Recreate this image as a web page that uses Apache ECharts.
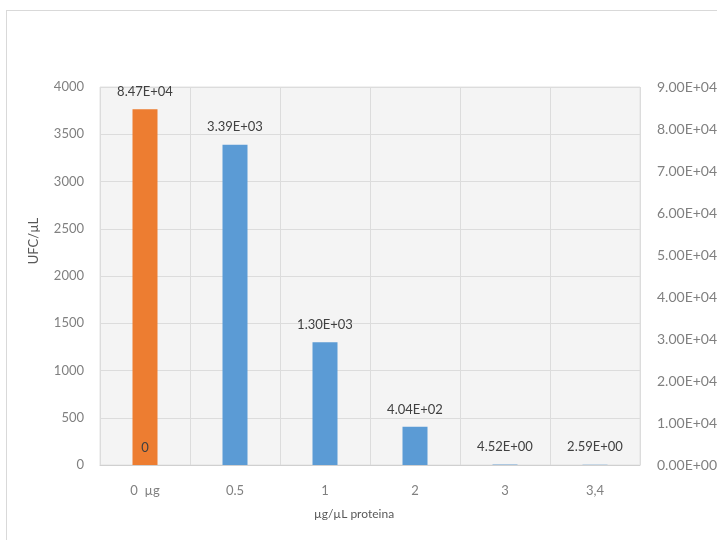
<!DOCTYPE html>
<html>
<head>
<meta charset="utf-8">
<script src="https://cdn.jsdelivr.net/npm/echarts@6/dist/echarts.min.js"></script>
<style>
  html,body{margin:0;padding:0;background:#fff;overflow:hidden;}
  #frame{position:absolute;left:6px;top:10px;width:760px;height:560px;border-left:1px solid #d9d9d9;border-top:1px solid #d9d9d9;}
  #chart{position:absolute;left:0;top:0;width:717px;height:540px;}
</style>
</head>
<body>
<div id="frame"></div>
<div id="chart"></div>
<script>
const categories = ['0  µg', '0.5', '1', '2', '3', '3,4'];
const ufcValues = [0, 3390, 1300, 404, 4.52, 2.59];
const controlValues = [84700, null, null, null, null, null];
const leftTicks = {min: 0, max: 4000, interval: 500};
const rightTicks = {min: 0, max: 90000, interval: 10000};

function sciAxis(v) {
  const s = Number(v).toExponential(2).toUpperCase();
  const m = s.match(/^(-?[\d.]+)E([+-])(\d+)$/);
  return m[1] + 'E' + m[2] + m[3].padStart(2, '0');
}
function sci(v) {
  if (v === 0) return '0';
  return sciAxis(v);
}

const font = 'Lato, "Open Sans", sans-serif';
const chart = echarts.init(document.getElementById('chart'), null, {renderer: 'canvas'});
chart.setOption({
  animation: false,
  textStyle: {fontFamily: font},
  grid: {left: 100, right: 77, top: 87, bottom: 75, containLabel: false, outerBoundsMode: 'none', show: true, backgroundColor: '#f4f4f4', borderColor: '#e3e3e3', borderWidth: 1},
  xAxis: {
    type: 'category',
    data: categories,
    name: 'µg/µL proteina',
    nameLocation: 'middle',
    nameGap: 43,
    nameTextStyle: {color: '#595959', fontSize: 12, fontFamily: font, padding: [0, 32, 0, 0]},
    axisLine: {lineStyle: {color: '#d0d0d0'}},
    axisTick: {show: false},
    axisLabel: {color: '#808080', fontSize: 13, margin: 19, fontFamily: font},
    splitLine: {show: true, lineStyle: {color: '#dcdcdc'}}
  },
  yAxis: [{
    type: 'value',
    min: leftTicks.min, max: leftTicks.max, interval: leftTicks.interval,
    name: 'UFC/µL',
    nameLocation: 'middle',
    nameGap: 60,
    nameTextStyle: {color: '#595959', fontSize: 13, fontFamily: font, padding: [0, 0, 0, 70]},
    axisLine: {show: false},
    axisTick: {show: false},
    axisLabel: {color: '#808080', fontSize: 13, margin: 16, fontFamily: font, formatter: v => String(v)},
    splitLine: {show: true, lineStyle: {color: '#dcdcdc'}}
  }, {
    type: 'value',
    min: rightTicks.min, max: rightTicks.max, interval: rightTicks.interval,
    position: 'right',
    axisLine: {show: false},
    axisTick: {show: false},
    axisLabel: {color: '#808080', fontSize: 14, margin: 17, fontFamily: font, formatter: sciAxis},
    splitLine: {show: false}
  }],
  series: [{
    type: 'bar',
    yAxisIndex: 1,
    data: controlValues,
    barWidth: 25,
    barGap: '-100%',
    itemStyle: {color: '#ED7D31'},
    label: {show: true, position: 'top', distance: 11, color: '#404040', fontSize: 13, fontFamily: font, formatter: p => sci(p.value)},
    z: 2
  }, {
    type: 'bar',
    yAxisIndex: 0,
    data: ufcValues,
    barWidth: 25,
    barGap: '-100%',
    itemStyle: {color: '#5B9BD5'},
    label: {show: true, position: 'top', distance: 11, color: '#404040', fontSize: 13, fontFamily: font, formatter: p => sci(p.value)},
    z: 3
  }]
});
</script>
</body>
</html>
